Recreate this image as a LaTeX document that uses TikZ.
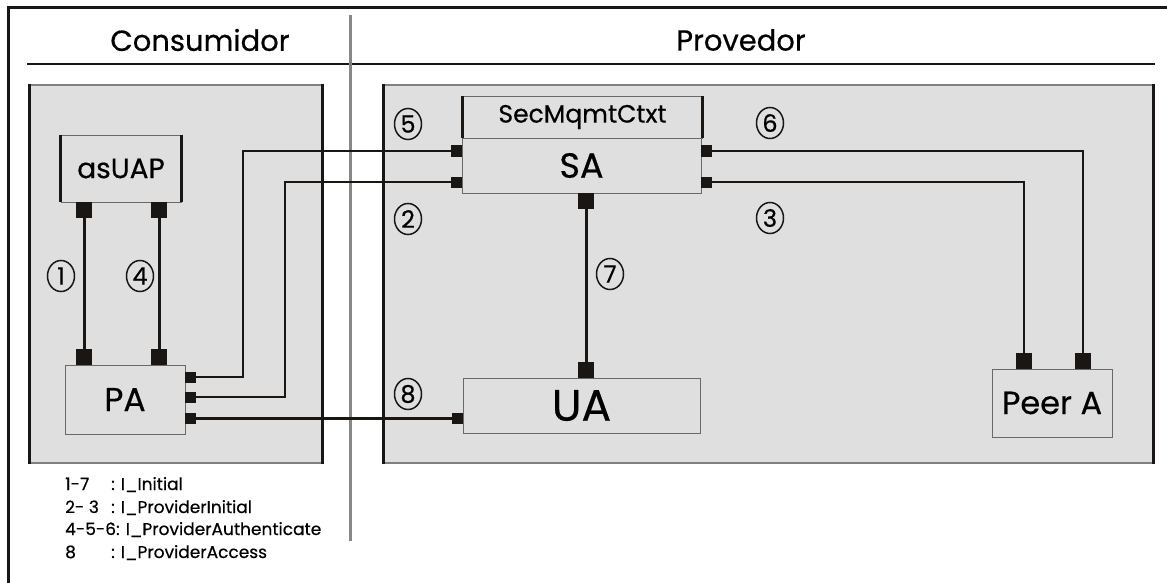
\documentclass[tikz,border=0pt]{standalone}
\usepackage{fontspec}
\setmainfont{Poppins}[FakeBold=0.5]
\usetikzlibrary{shapes.geometric,calc}
\definecolor{boxgray}{RGB}{223,223,223}
\definecolor{edgegray}{RGB}{105,105,105}
\definecolor{ink}{RGB}{25,22,20}
\definecolor{divgray}{RGB}{135,135,135}
\begin{document}
\begin{tikzpicture}[x=1pt,y=-1pt,
  area/.style={fill=boxgray, draw=gray, line width=1.2pt, inner sep=0pt},
  comp/.style={fill=boxgray, draw=edgegray, line width=0.9pt, inner sep=0pt},
  port/.style={fill=ink, draw=none, inner sep=0pt},
  bigport/.style={port, minimum width=16pt, minimum height=16pt},
  smallport/.style={port, minimum width=10.5pt, minimum height=11pt},
  wire/.style={line width=2.2pt, ink},
  thickwire/.style={line width=3pt, ink},
  edge/.style={line width=2.8pt, ink},
  num/.style={ellipse, draw=ink, line width=1.5pt, minimum width=27pt, minimum height=31pt, inner sep=0pt, font=\fontsize{24}{24}\selectfont},
  title/.style={font=\fontsize{29}{30}\selectfont},
  legend/.style={inner sep=0pt, font=\fontsize{17}{18}\selectfont}
]
\useasboundingbox (0,0) rectangle (1167,583);
\fill[white] (0,0) rectangle (1167,583);

% outer frame (left and top only)
\draw[line width=3pt, ink] (8,583) -- (8,8) -- (1167,8);
% header line
\draw[line width=1.4pt, ink] (27,64) -- (1155,64);
% divider
\draw[divgray, line width=3pt] (350,15) -- (350,541);

% titles
\node[title] (tcons) at (200,40) {Consumidor};
\node[title] (tprov) at (741,40) {Provedor};

% areas
\node[area, minimum width=292pt, minimum height=378pt] (left) at (176,274) {};
\draw[edge] (left.north west) -- (left.south west);
\draw[edge] (left.north east) -- (left.south east);
\node[area, minimum width=769pt, minimum height=378pt] (right) at (768.5,274) {};
\draw[edge] (right.north west) -- (right.south west);
\draw[edge] (right.north east) -- (right.south east);

% components
\node[comp, minimum width=120pt, minimum height=67pt, font=\fontsize{28}{30}\selectfont] (asuap) at (121,168.5) {asUAP};
\draw[edge] (asuap.north west) -- (asuap.south west);
\draw[edge] (asuap.north east) -- (asuap.south east);
\node[comp, minimum width=120pt, minimum height=69pt, font=\fontsize{33}{34}\selectfont] (pa) at (125,399.5) {PA};
\node[comp, minimum width=239pt, minimum height=42pt, font=\fontsize{25}{26}\selectfont] (ctx) at (582.5,117) {SecMqmtCtxt};
\draw[edge] (ctx.north west) -- (ctx.south west);
\draw[edge] (ctx.north east) -- (ctx.south east);
\node[comp, minimum width=239pt, minimum height=55pt, font=\fontsize{35}{36}\selectfont] (sa) at (581.5,165.5) {SA};
\node[comp, minimum width=237pt, minimum height=55pt, font=\fontsize{44}{46}\selectfont] (ua) at (581.5,405.5) {UA};
\node[comp, minimum width=120pt, minimum height=68pt, font=\fontsize{32}{33}\selectfont] (peer) at (1052,403) {Peer A};

% ports
\node[bigport, anchor=north] (ap1) at (84,202) {};
\node[bigport, anchor=north] (ap2) at (159,202) {};
\node[bigport, anchor=south] (pp1) at (84,365) {};
\node[bigport, anchor=south] (pp2) at (159,365) {};
\node[smallport, anchor=west] (pr1) at (185,377) {};
\node[smallport, anchor=west] (pr2) at (185,397) {};
\node[smallport, anchor=west] (pr3) at (185,418.5) {};
\node[smallport, anchor=east] (sl1) at (462,151) {};
\node[smallport, anchor=east] (sl2) at (462,182) {};
\node[smallport, anchor=west] (sr1) at (701,151) {};
\node[smallport, anchor=west] (sr2) at (701,182) {};
\node[bigport, anchor=north] (sb) at (586,193) {};
\node[bigport, anchor=south] (ut) at (586,378) {};
\node[smallport, anchor=east] (ul) at (463,418.5) {};
\node[bigport, anchor=south] (pa1) at (1024,369) {};
\node[bigport, anchor=south] (pa2) at (1083,369) {};

% wires
\draw[thickwire] (ap1.south) -- (pp1.north);
\draw[thickwire] (ap2.south) -- (pp2.north);
\draw[wire] (pr1.east) -- ++(47,0) |- (sl1.west);
\draw[wire] (pr2.east) -- ++(89,0) |- (sl2.west);
\draw[wire] (pr3.east) -- (ul.west);
\draw[wire] (sr1.east) -| (pa2.north);
\draw[wire] (sr2.east) -| (pa1.north);
\draw[thickwire] (sb.south) -- (ut.north);

% circled numbers
\node[num] (n1) at (61,276) {1};
\node[num] (n4) at (140,276) {4};
\node[num] (n5) at (408,124) {5};
\node[num] (n6) at (770,123) {6};
\node[num] (n2) at (408,219) {2};
\node[num] (n3) at (770,218) {3};
\node[num] (n7) at (610,274) {7};
\node[num] (n8) at (408,394) {8};

% legend
\node[legend, anchor=base west] (l1a) at (65,490) {1-7};
\node[legend, anchor=base west] (l1b) at (111,490) {: I\_Initial};
\node[legend, anchor=base west] (l2a) at (65,513) {2- 3};
\node[legend, anchor=base west] (l2b) at (111,513) {: I\_ProviderInitial};
\node[legend, anchor=base west] (l3) at (65,535) {4-5-6: I\_ProviderAuthenticate};
\node[legend, anchor=base west] (l4a) at (65,558) {8};
\node[legend, anchor=base west] (l4b) at (111,558) {: I\_ProviderAccess};
\end{tikzpicture}
\end{document}
